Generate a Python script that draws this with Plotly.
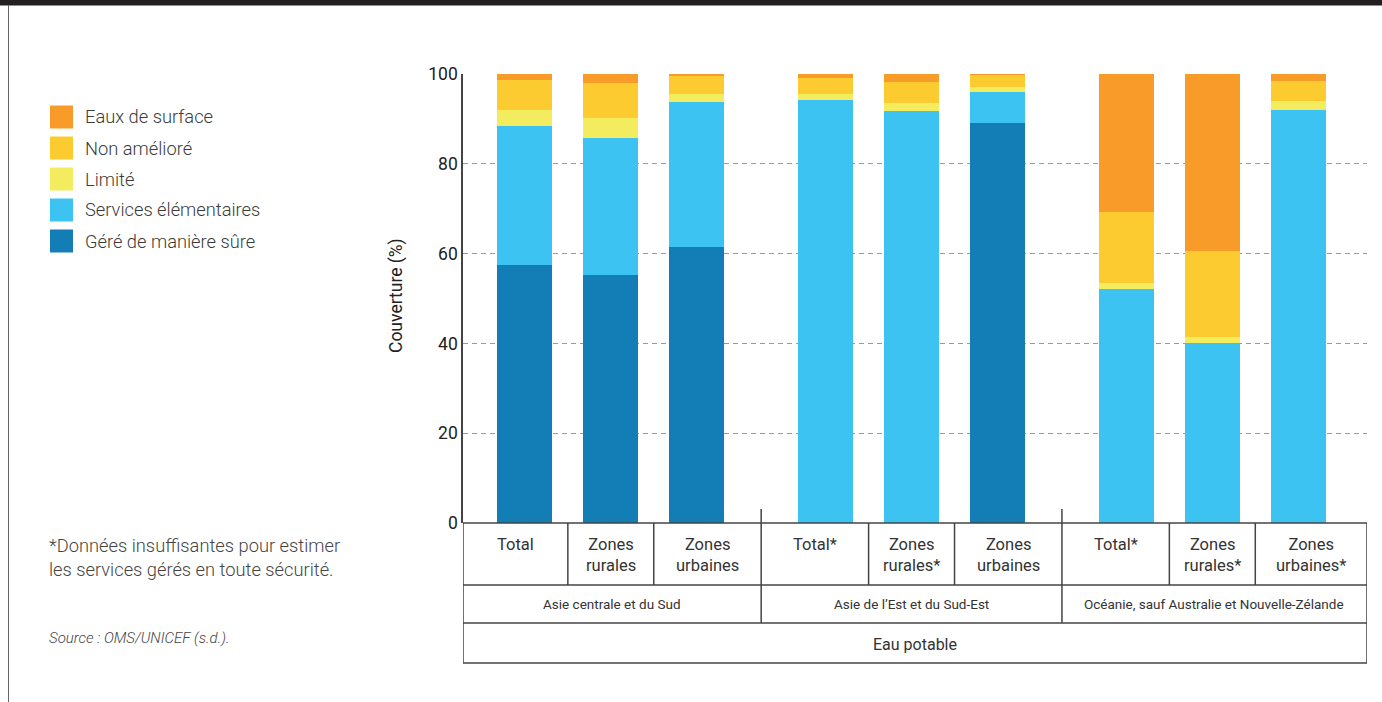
import plotly.graph_objects as go

# ---------------- data ----------------
groups = ["Asie centrale et du Sud", "Asie de l’Est et du Sud-Est",
          "Océanie, sauf Australie et Nouvelle-Zélande"]
categories = ["Total", "Zones<br>rurales", "Zones<br>urbaines",
              "Total*", "Zones<br>rurales*", "Zones<br>urbaines",
              "Total*", "Zones<br>rurales*", "Zones<br>urbaines*"]
category_group = [0, 0, 0, 1, 1, 1, 2, 2, 2]
top_label = "Eau potable"

safely = [57.5, 55.2, 61.5, 0, 0, 89.1, 0, 0, 0]
basic = [30.9, 30.5, 32.3, 94.2, 91.8, 6.9, 52.1, 40.1, 92.0]
limited = [3.6, 4.5, 1.7, 1.3, 1.8, 1.1, 1.4, 1.3, 2.0]
unimproved = [6.7, 7.8, 4.1, 3.6, 4.6, 2.7, 15.8, 19.2, 4.4]
surface = [1.3, 2.0, 0.4, 0.9, 1.8, 0.2, 30.7, 39.4, 1.6]

series_names = ["Géré de manière sûre", "Services élémentaires", "Limité",
                "Non amélioré", "Eaux de surface"]
series_values = [safely, basic, limited, unimproved, surface]
series_colors = ["#137DB5", "#3DC3F1", "#F2EC5E", "#FCCB30", "#F89B28"]

y_ticks = [0, 20, 40, 60, 80, 100]
y_title = "Couverture (%)"
footnote = "*Données insuffisantes pour estimer<br>les services gérés en toute sécurité."
source = "Source : OMS/UNICEF (s.d.)."

# ---------------- layout helpers (screen pixel coordinates) ----------------
W, H = 1382, 702
L, R, T, B = 463, 1367, 74, 523
PW, PH = R - L, B - T


def px(xp):
    return (xp - L) / PW


def py(yp):
    return (B - yp) / PH


# bar positions: 3 per group, gap of half a slot between groups
xpos = [g * 3.5 + (i - 3 * g) for i, g in enumerate(category_group)]
xr = [-0.72, 9.8]

TXT = "#333333"
LINE = "#444444"
FONT = "Roboto"

fig = go.Figure()
for name, vals, col in zip(series_names, series_values, series_colors):
    fig.add_trace(go.Bar(x=xpos, y=vals, name=name, marker_color=col,
                         marker_line_width=0, width=0.64, showlegend=False,
                         hoverinfo="y+name"))

shapes = []
annotations = []

# table lines (x in data coords, y in paper coords)
y_r0, y_r1, y_r2, y_r3 = 0, py(585), py(623), py(663)
line = dict(color=LINE, width=1.5)
for yy in [y_r0, y_r1, y_r2, y_r3]:
    shapes.append(dict(type="line", xref="x", yref="paper", x0=xr[0], x1=xr[1],
                       y0=yy, y1=yy, line=line))
for xx in xr:
    shapes.append(dict(type="line", xref="x", yref="paper", x0=xx, x1=xx,
                       y0=y_r3, y1=0, line=line))
for a, b in zip(xpos[:-1], xpos[1:]):
    mid = (a + b) / 2
    is_group = (b - a) > 1.2
    y_bottom = y_r2 if is_group else y_r1
    y_top = py(509) if is_group else 0
    shapes.append(dict(type="line", xref="x", yref="paper", x0=mid, x1=mid,
                       y0=y_bottom, y1=y_top, line=line))

# category labels
bounds = [xr[0]] + [(a + b) / 2 for a, b in zip(xpos[:-1], xpos[1:])] + [xr[1]]
for i, cat in enumerate(categories):
    cx = (bounds[i] + bounds[i + 1]) / 2
    annotations.append(dict(x=cx, y=py(533), xref="x", yref="paper", text=cat,
                            showarrow=False, xanchor="center", yanchor="top",
                            font=dict(family=FONT, size=16.5, color=TXT)))
for g, gname in enumerate(groups):
    idx = [i for i, cg in enumerate(category_group) if cg == g]
    cx = (bounds[idx[0]] + bounds[idx[-1] + 1]) / 2
    annotations.append(dict(x=cx, y=py(604), xref="x", yref="paper", text=gname,
                            showarrow=False, xanchor="center", yanchor="middle",
                            font=dict(family=FONT, size=13.5, color=TXT)))
annotations.append(dict(x=(xr[0] + xr[1]) / 2, y=py(644), xref="x", yref="paper",
                        text=top_label, showarrow=False, xanchor="center",
                        yanchor="middle", font=dict(family=FONT, size=16, color=TXT)))

# y axis title
annotations.append(dict(x=px(396), y=py(296), xref="paper", yref="paper", text=y_title,
                        textangle=-90, showarrow=False, xanchor="center",
                        yanchor="middle", font=dict(family=FONT, size=17.5, color="#222")))

# manual legend (top to bottom: reversed stack order)
for k, (name, col) in enumerate(zip(series_names[::-1], series_colors[::-1])):
    cy = 117 + 31 * k
    shapes.append(dict(type="rect", xref="paper", yref="paper",
                       x0=px(50), x1=px(73), y0=py(cy - 11.5), y1=py(cy + 11.5),
                       fillcolor=col, line=dict(width=0)))
    annotations.append(dict(x=px(83), y=py(cy), xref="paper", yref="paper", text=name,
                            showarrow=False, xanchor="left", yanchor="middle",
                            font=dict(family=FONT, size=18.3, color="#3a3a3a",
                                      weight=300)))

# footnote and source
annotations.append(dict(x=px(47), y=py(533), xref="paper", yref="paper", text=footnote,
                        showarrow=False, xanchor="left", yanchor="top", align="left",
                        font=dict(family=FONT, size=18.3, color="#444", weight=300)))
annotations.append(dict(x=px(47), y=py(638), xref="paper", yref="paper",
                        text="<i>" + source + "</i>", showarrow=False, xanchor="left",
                        yanchor="middle", font=dict(family=FONT, size=15, color="#444",
                                                    weight=300)))

# page frame: top dark band and left rule
shapes.append(dict(type="rect", xref="paper", yref="paper", x0=px(-10), x1=px(W + 10),
                   y0=py(5.5), y1=py(-10), fillcolor="#231f20", line=dict(width=0)))
shapes.append(dict(type="line", xref="paper", yref="paper", x0=px(8.5), x1=px(8.5),
                   y0=py(5), y1=py(H + 10), line=dict(color="#666", width=1)))

fig.update_layout(
    width=W, height=H,
    margin=dict(l=L, r=W - R, t=T, b=H - B),
    paper_bgcolor="white", plot_bgcolor="white",
    barmode="stack", bargap=0,
    showlegend=False,
    shapes=shapes, annotations=annotations,
    font=dict(family=FONT, color=TXT),
    xaxis=dict(range=xr, showticklabels=False, showgrid=False, zeroline=False,
               showline=False, ticks="", fixedrange=True),
    yaxis=dict(range=[0, 100], tickvals=y_ticks, showgrid=True, gridcolor="#9a9a9a",
               griddash="5px,4px", gridwidth=1, zeroline=False, showline=True,
               linecolor=LINE, linewidth=1.5, ticks="",
               tickfont=dict(family=FONT, size=17.5, color="#222"), fixedrange=True),
)

fig.write_html("out.html", config={"displayModeBar": False},
               post_script="document.body.style.margin='0';document.body.style.overflow='hidden';")
